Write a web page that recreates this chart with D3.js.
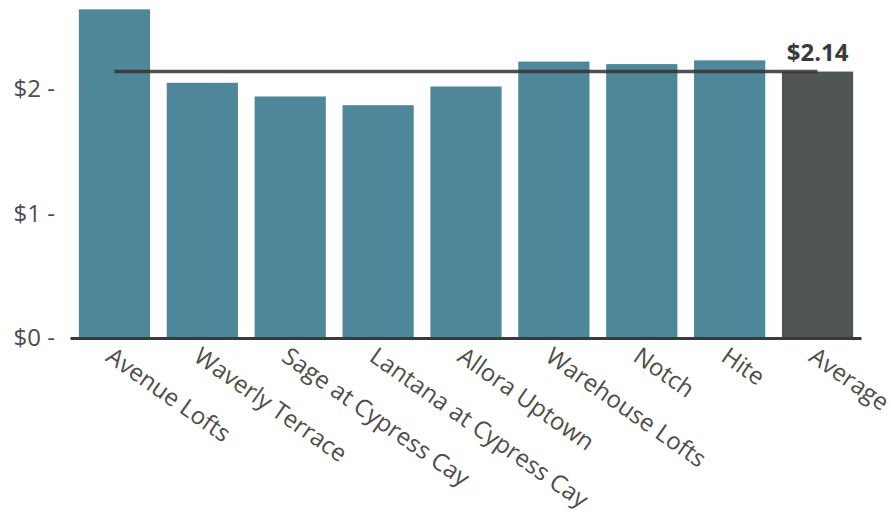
<!DOCTYPE html>
<html>
<head>
<meta charset="utf-8">
<script src="https://cdn.jsdelivr.net/npm/d3@7"></script>
<style>
  body { margin: 0; background: #fff; }
  text { font-family: "Open Sans", sans-serif; }
</style>
</head>
<body>
<div id="chart"></div>
<script>
// data
const properties = ["Avenue Lofts", "Waverly Terrace", "Sage at Cypress Cay", "Lantana at Cypress Cay",
  "Allora Uptown", "Warehouse Lofts", "Notch", "Hite", "Average"];
const rents = [2.64, 2.05, 1.94, 1.87, 2.02, 2.22, 2.20, 2.23, 2.14];
const yTicks = [0, 1, 2];
const averageValue = 2.14;

const width = 891, height = 516;
const barColor = "#4d8799", avgColor = "#4f5554", textColor = "#4d4d4d";

const svg = d3.select("#chart").append("svg")
  .attr("width", width)
  .attr("height", height);

// scales
const x = d3.scaleBand()
  .domain(properties)
  .range([70.5, 861.5])
  .paddingInner(0.19)
  .paddingOuter(0.095);

const y = d3.scaleLinear()
  .domain([0, 2.65])
  .range([338, 338 - 2.65 * 124.5]);

// bars
svg.selectAll("rect.bar")
  .data(properties)
  .enter()
  .append("rect")
  .attr("class", "bar")
  .attr("x", d => x(d))
  .attr("width", x.bandwidth())
  .attr("y", (d, i) => y(rents[i]))
  .attr("height", (d, i) => y(0) - y(rents[i]))
  .attr("fill", d => d === "Average" ? avgColor : barColor);

// y axis: labels only, with the dash in the text
const yAxis = svg.append("g").attr("class", "y axis");
yAxis.selectAll("text")
  .data(yTicks)
  .enter()
  .append("text")
  .attr("x", 55)
  .attr("y", d => y(d))
  .attr("dy", "0.35em")
  .attr("text-anchor", "end")
  .attr("fill", textColor)
  .style("font-size", "24px")
  .text(d => "$" + d + " -");

// x axis line
svg.append("line")
  .attr("x1", x.range()[0])
  .attr("x2", x.range()[1])
  .attr("y1", y(0) + 0.5)
  .attr("y2", y(0) + 0.5)
  .attr("stroke", "#3a3a3a")
  .attr("stroke-width", 3);

// category labels, rotated
svg.append("g").attr("class", "x axis")
  .selectAll("text")
  .data(properties)
  .enter()
  .append("text")
  .attr("transform", d => "translate(" + (x(d) + x.bandwidth() / 2 - 10) + "," + (y(0) + 22) + ") rotate(35)")
  .attr("text-anchor", "start")
  .attr("fill", textColor)
  .style("font-size", "24px")
  .text(d => d);

// average line
const first = properties[0], last = properties[properties.length - 1];
svg.append("line")
  .attr("x1", x(first) + x.bandwidth() / 2)
  .attr("x2", x(last) + x.bandwidth() / 2)
  .attr("y1", y(averageValue))
  .attr("y2", y(averageValue))
  .attr("stroke", "#333")
  .attr("stroke-opacity", 0.85)
  .attr("stroke-width", 3.5);

svg.append("text")
  .attr("x", x(last) + x.bandwidth() / 2)
  .attr("y", y(averageValue) - 11)
  .attr("text-anchor", "middle")
  .attr("fill", "#3a3a3a")
  .style("font-size", "24px")
  .style("font-weight", "bold")
  .text("$" + averageValue.toFixed(2));
</script>
</body>
</html>
